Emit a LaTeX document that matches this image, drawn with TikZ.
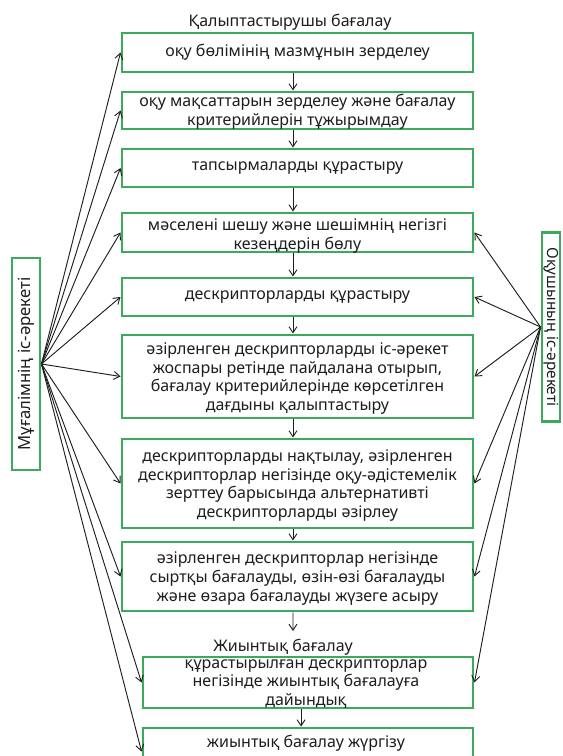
\documentclass[tikz,border=0pt]{standalone}
\usepackage{fontspec}
\setmainfont{Noto Sans}
\usetikzlibrary{arrows.meta}
\definecolor{boxgreen}{RGB}{58,170,92}
\definecolor{inkc}{RGB}{30,30,30}
\tikzset{
  stagebox/.style={draw=boxgreen, line width=2.2pt, fill=white, rectangle, inner sep=0pt},
  txt/.style={align=center, inner sep=0pt, text=inkc, font=\fontsize{12}{14}\selectfont},
  lbl/.style={inner sep=0pt, text=inkc, font=\fontsize{12}{14}\selectfont},
  sidelbl/.style={inner sep=0pt, text=inkc, font=\fontsize{12.5}{14}\selectfont},
  sidelblr/.style={inner sep=0pt, text=inkc, font=\fontsize{11.5}{14}\selectfont},
  arr/.style={-{Straight Barb[length=4.5pt,width=6pt]}, line width=0.7pt, draw=inkc},
}
\begin{document}
\begin{tikzpicture}[x=0.75pt,y=-0.75pt]
\clip (0,0) rectangle (562,756);
\fill[white] (0,0) rectangle (562,756);
% titles
\node[lbl] (title) at (290,22) {Қалыптастырушы бағалау};
% boxes
\node[stagebox, minimum width=263.25pt, minimum height=29.25pt] (b1) at (297.5,52.5) {};
\node[stagebox, minimum width=263.25pt, minimum height=27.75pt] (b2) at (297.5,110.5) {};
\node[stagebox, minimum width=263.25pt, minimum height=28.5pt] (b3) at (297.5,168) {};
\node[stagebox, minimum width=263.25pt, minimum height=29.25pt] (b4) at (297.5,232.5) {};
\node[stagebox, minimum width=263.25pt, minimum height=28.5pt] (b5) at (297.5,297) {};
\node[stagebox, minimum width=263.25pt, minimum height=62.25pt] (b6) at (297.5,376.5) {};
\node[stagebox, minimum width=263.25pt, minimum height=66.75pt] (b7) at (297.5,483.5) {};
\node[stagebox, minimum width=263.25pt, minimum height=51.75pt] (b8) at (297.5,576.5) {};
\node[stagebox, minimum width=247.5pt, minimum height=38.25pt] (b9) at (308,682.5) {};
\node[stagebox, minimum width=247.5pt, minimum height=35.25pt] (b10) at (308,751.5) {};
% side boxes
\node[stagebox, minimum width=21pt, minimum height=159pt] (L) at (26,364) {};
\node[stagebox, minimum width=13.5pt, minimum height=142pt] (R) at (551,327) {};
\node[sidelbl, rotate=90] (Lt) at (L.center) {Мұғалімнің іс-әрекеті};
\node[sidelblr, rotate=-90] (Rt) at (R.center) {Оқушының іс-әрекеті};
% texts
\node[txt] (t1) at (297.5,52.5) {оқу бөлімінің мазмұнын зерделеу};
\node[txt] (t2) at (297.5,112) {оқу мақсаттарын зерделеу және бағалау\\критерийлерін тұжырымдау};
\node[txt] (t3) at (297.5,168) {тапсырмаларды құрастыру};
\node[txt] (t4) at (297.5,236) {мәселені шешу және шешімнің негізгі\\кезеңдерін бөлу};
\node[txt] (t5) at (297.5,297) {дескрипторларды құрастыру};
\node[txt] (t6) at (297.5,378.5) {әзірленген дескрипторларды іс-әрекет\\жоспары ретінде пайдалана отырып,\\бағалау критерийлерінде көрсетілген\\дағдыны қалыптастыру};
\node[txt] (t7) at (297.5,485.5) {дескрипторларды нақтылау, әзірленген\\дескрипторлар негізінде оқу-әдістемелік\\зерттеу барысында альтернативті\\дескрипторларды әзірлеу};
\node[txt] (t8) at (297.5,578.5) {әзірленген дескрипторлар негізінде\\сыртқы бағалауды, өзін-өзі бағалауды\\және өзара бағалауды жүзеге асыру};
\node[lbl] (sum) at (283,647) {Жиынтық бағалау};
\node[txt] (t9) at (306,684) {құрастырылған дескрипторлар\\негізінде жиынтық бағалауға\\дайындық};
\node[txt] (t10) at (306,743) {жиынтық бағалау жүргізу};
% vertical arrows
\draw[arr] ([xshift=-3.4pt]b1.south) -- ([xshift=-3.4pt]b2.north);
\draw[arr] ([xshift=-3.4pt]b2.south) -- ([xshift=-3.4pt]b3.north);
\draw[arr] ([xshift=-3.4pt]b3.south) -- ([xshift=-3.4pt]b4.north);
\draw[arr] ([xshift=-3.4pt]b4.south) -- ([xshift=-3.4pt]b5.north);
\draw[arr] ([xshift=-3.4pt]b5.south) -- ([xshift=-3.4pt]b6.north);
\draw[arr] ([xshift=-3.4pt]b6.south) -- ([xshift=-3.4pt]b7.north);
\draw[arr] ([xshift=-3.4pt]b7.south) -- ([xshift=-3.4pt]b8.north);
\coordinate (jtip) at (293,631);
\draw[arr] ([xshift=-3.4pt]b8.south) -- (jtip);
\draw[arr] ([xshift=-5.2pt]b9.south) -- ([xshift=-5.2pt]b10.north);
% teacher arrows
\foreach \b in {b1,b2,b3,b4,b5,b6,b7,b8,b9,b10}
  \draw[arr] (L.east) -- (\b.west);
% student arrows
\foreach \b in {b4,b5,b6,b7,b8,b9}
  \draw[arr] (R.west) -- (\b.east);
\end{tikzpicture}
\end{document}
